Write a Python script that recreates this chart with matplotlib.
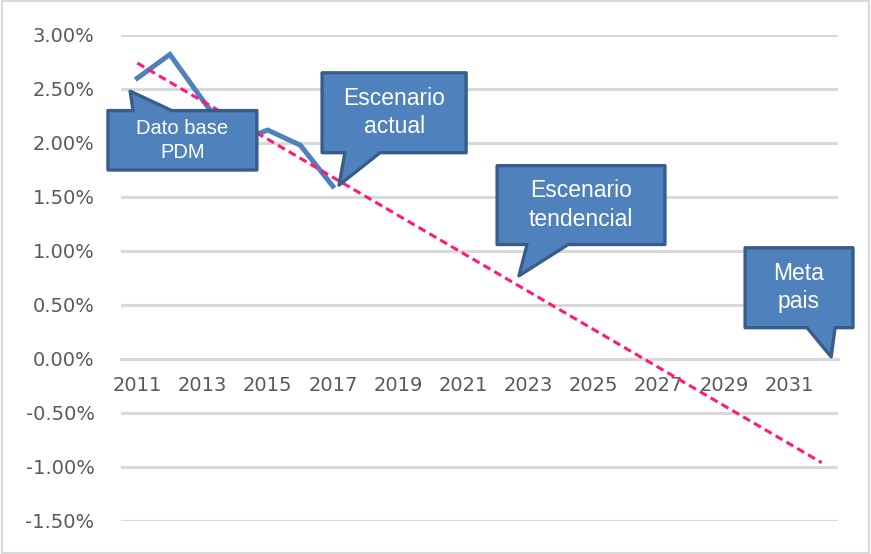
import matplotlib
matplotlib.use("Agg")
import matplotlib.pyplot as plt
from matplotlib.patches import Polygon, Rectangle

years = list(range(2011, 2033))
actual_years = [2011, 2012, 2013, 2014, 2015, 2016, 2017]
actual_vals = [2.60, 2.82, 2.40, 2.00, 2.12, 1.98, 1.60]
trend_years = [2011, 2032]
trend_vals = [2.74, -0.96]
yticks = [3.0, 2.5, 2.0, 1.5, 1.0, 0.5, 0.0, -0.5, -1.0, -1.5]
xlabels = [str(y) for y in years[::2]]

# callouts: text, box (x0, x1, ytop, ybot), pointer base (b0, b1), tip, side of pointer
callouts = [
    ("Dato base\nPDM", (-0.90, 3.67, 2.30, 1.75), (-0.13, 1.06), (-0.22, 2.48), "top"),
    ("Escenario\nactual", (5.67, 10.09, 2.65, 1.91), (6.37, 7.45), (6.19, 1.61), "bottom"),
    ("Escenario\ntendencial", (11.04, 16.19, 1.79, 1.06), (11.96, 13.22), (11.71, 0.77), "bottom"),
    ("Meta\npais", (18.65, 21.96, 1.03, 0.29), (20.55, 21.41), (21.29, 0.02), "bottom"),
]
callout_sizes = [14.5, 16.5, 16.5, 16.5]

fig = plt.figure(figsize=(8.71, 5.54), dpi=100)
ax = fig.add_axes([121 / 871, 1 - 521 / 554, 717 / 871, 486 / 554])

xs = [y - 2011 for y in actual_years]
ax.plot(xs, actual_vals, color="#4F81BD", lw=3.6, solid_joinstyle="miter", zorder=3)
ax.plot([y - 2011 for y in trend_years], trend_vals, color="#FF1A7A", lw=2.2,
        dashes=(2.6, 1.5), zorder=4)

ax.set_xlim(-0.5, 21.5)
ax.set_ylim(-1.5, 3.0)
ax.set_yticks(yticks)
ax.set_yticklabels(["%.2f%%" % v for v in yticks])
ax.set_xticks(range(0, 22, 2))
ax.set_xticklabels(xlabels)
ax.yaxis.grid(True, color="#D9D9D9", lw=2.2)
ax.set_axisbelow(True)
for s in ["top", "right", "left"]:
    ax.spines[s].set_visible(False)
ax.spines["bottom"].set_position(("data", 0))
ax.spines["bottom"].set_color("#D9D9D9")
ax.spines["bottom"].set_linewidth(2.2)
ax.tick_params(axis="both", length=0, labelcolor="#595959", labelsize=14)
ax.tick_params(axis="x", pad=12)
ax.tick_params(axis="y", pad=19)
for lab in ax.get_xticklabels() + ax.get_yticklabels():
    lab.set_family("DejaVu Sans")

for (text, (x0, x1, yt, yb), (b0, b1), tip, side), fs in zip(callouts, callout_sizes):
    if side == "top":
        pts = [(x0, yt), (b0, yt), tip, (b1, yt), (x1, yt), (x1, yb), (x0, yb)]
    else:
        pts = [(x0, yt), (x1, yt), (x1, yb), (b1, yb), tip, (b0, yb), (x0, yb)]
    ax.add_patch(Polygon(pts, closed=True, facecolor="#4F81BD", edgecolor="#385D8A",
                         lw=2.4, joinstyle="round", clip_on=False, zorder=5))
    ax.text((x0 + x1) / 2, (yt + yb) / 2, text, ha="center", va="center", color="white",
            fontsize=fs, family="Liberation Sans", linespacing=1.3, zorder=6)

fig.patches.append(Rectangle((0.002, 0.002), 0.996, 0.996, transform=fig.transFigure,
                             fill=False, edgecolor="#D9D9D9", lw=1.5))

fig.savefig("out.png", dpi=100)
